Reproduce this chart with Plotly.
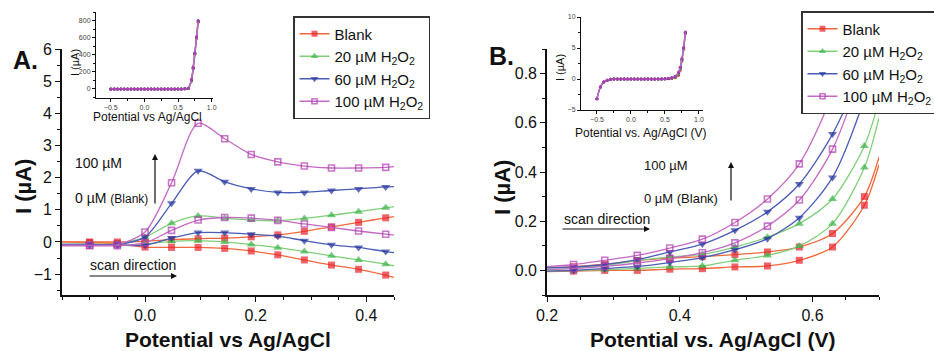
import plotly.graph_objects as go

W, H = 934, 351
FONT = "Liberation Sans, Arial, sans-serif"
INK = "#111111"


def px(x):
    return x / W


def py(y):
    return 1 - y / H


# ---------------- Panel A: cyclic voltammograms (-0.15 .. 0.45 V) ----------------
A_POT = [-0.15, -0.10, -0.05, 0.00, 0.048, 0.096, 0.144, 0.192, 0.240, 0.288, 0.337, 0.386, 0.435, 0.45]

A_BLANK_HI = [0.00, 0.00, 0.00, 0.02, 0.07, 0.10, 0.12, 0.16, 0.22, 0.33, 0.47, 0.61, 0.75, 0.79]
A_BLANK_LO = [0.00, -0.02, -0.05, -0.16, -0.17, -0.17, -0.20, -0.28, -0.40, -0.56, -0.72, -0.85, -1.03, -1.10]
A_H20_HI = [-0.08, -0.07, -0.06, 0.15, 0.58, 0.81, 0.74, 0.68, 0.66, 0.73, 0.83, 0.94, 1.06, 1.10]
A_H20_LO = [-0.08, -0.08, -0.10, -0.06, 0.02, 0.04, 0.00, -0.08, -0.18, -0.30, -0.43, -0.56, -0.69, -0.74]
A_H60_HI = [-0.08, -0.08, -0.08, 0.15, 1.20, 2.21, 1.87, 1.65, 1.54, 1.54, 1.60, 1.65, 1.71, 1.72]
A_H60_LO = [-0.10, -0.10, -0.10, -0.10, 0.12, 0.29, 0.29, 0.24, 0.18, 0.04, -0.09, -0.17, -0.30, -0.33]
A_H100_HI = [-0.10, -0.10, -0.08, 0.31, 1.84, 3.69, 3.21, 2.72, 2.49, 2.36, 2.30, 2.30, 2.32, 2.34]
A_H100_LO = [-0.12, -0.12, -0.12, -0.03, 0.36, 0.68, 0.76, 0.74, 0.67, 0.56, 0.45, 0.34, 0.24, 0.21]

# ---------------- Panel B: anodic region (0.2 .. 0.7 V) ----------------
B_POT = [0.20, 0.240, 0.287, 0.336, 0.385, 0.434, 0.483, 0.532, 0.580, 0.630, 0.678, 0.70]

B_BLANK_HI = [0.012, 0.015, 0.025, 0.040, 0.050, 0.056, 0.064, 0.075, 0.095, 0.150, 0.300, 0.460]
B_BLANK_LO = [-0.005, -0.003, 0.000, 0.000, 0.005, 0.007, 0.014, 0.018, 0.041, 0.095, 0.265, 0.430]
B_H20_HI = [0.010, 0.010, 0.020, 0.040, 0.055, 0.065, 0.095, 0.135, 0.190, 0.290, 0.506, 0.690]
B_H20_LO = [-0.003, 0.000, 0.003, 0.008, 0.014, 0.018, 0.041, 0.061, 0.099, 0.190, 0.418, 0.620]
B_H60_HI = [0.010, 0.014, 0.024, 0.044, 0.075, 0.107, 0.163, 0.238, 0.351, 0.554, 0.850, 1.100]
B_H60_LO = [-0.003, 0.000, 0.007, 0.016, 0.032, 0.052, 0.084, 0.129, 0.214, 0.378, 0.700, 0.950]
B_H100_HI = [0.015, 0.024, 0.041, 0.061, 0.091, 0.127, 0.195, 0.290, 0.433, 0.720, 1.200, 1.500]
B_H100_LO = [0.003, 0.007, 0.016, 0.030, 0.048, 0.072, 0.112, 0.180, 0.286, 0.493, 0.850, 1.100]

# ---------------- Insets: full potential window ----------------
INSET_POT = [-0.5, -0.45, -0.4, -0.35, -0.3, -0.25, -0.2, -0.15, -0.1, -0.05, 0.0, 0.05, 0.1, 0.15,
             0.2, 0.25, 0.3, 0.35, 0.4, 0.45, 0.5, 0.55, 0.6, 0.65, 0.7, 0.725, 0.75, 0.775, 0.8]

INSET_A_BLANK = [-3, -3, -3, -3, -3, -3, -3, -3, -3, -3, -3, -3, -3, -3,
                 -3, -3, -3, -3, -3, -3, -3, -3, -2, 2, 90, 230, 400, 590, 780]
INSET_A_H20 = [-3, -3, -3, -3, -3, -3, -3, -3, -3, -3, -3, -3, -3, -3,
               -3, -3, -3, -3, -3, -3, -3, -3, -2, 3, 100, 240, 410, 600, 790]
INSET_A_H60 = [-3, -3, -3, -3, -3, -3, -3, -3, -3, -3, -3, -3, -3, -3,
               -3, -3, -3, -3, -3, -3, -3, -3, -2, 4, 105, 245, 415, 605, 795]
INSET_A_H100 = [-3, -3, -3, -3, -3, -3, -3, -3, -3, -3, -3, -3, -3, -3,
                -3, -3, -3, -3, -3, -3, -3, -3, -1, 5, 110, 250, 420, 610, 800]

INSET_B_BLANK = [-3.2, -1.3, -0.5, -0.2, -0.05, 0.0, 0.0, 0.0, 0.0, 0.0, 0.0, 0.0, 0.0, 0.0,
                 0.0, 0.0, 0.0, 0.0, 0.0, 0.0, 0.02, 0.05, 0.1, 0.2, 0.6, 1.4, 2.9, 4.8, 7.3]
INSET_B_H20 = [-3.2, -1.3, -0.5, -0.2, -0.05, 0.0, 0.0, 0.0, 0.0, 0.0, 0.0, 0.0, 0.0, 0.0,
               0.0, 0.0, 0.0, 0.0, 0.0, 0.01, 0.03, 0.07, 0.14, 0.3, 0.8, 1.6, 3.0, 4.9, 7.4]
INSET_B_H60 = [-3.2, -1.3, -0.5, -0.2, -0.05, 0.0, 0.0, 0.0, 0.0, 0.0, 0.0, 0.0, 0.0, 0.0,
               0.0, 0.0, 0.0, 0.0, 0.01, 0.02, 0.05, 0.1, 0.2, 0.4, 1.0, 1.8, 3.2, 5.0, 7.5]
INSET_B_H100 = [-3.2, -1.3, -0.5, -0.2, -0.05, 0.0, 0.0, 0.0, 0.0, 0.0, 0.0, 0.0, 0.0, 0.0,
                0.0, 0.0, 0.0, 0.01, 0.02, 0.03, 0.06, 0.12, 0.22, 0.45, 1.1, 1.9, 3.3, 5.1, 7.6]

LABELS = ["Blank", "20 µM H<sub>2</sub>O<sub>2</sub>", "60 µM H<sub>2</sub>O<sub>2</sub>",
          "100 µM H<sub>2</sub>O<sub>2</sub>"]

# style per concentration: line colour, marker colour, symbol, marker size
STYLES = [
    ("#f2683c", "#e8202a", "square", 7),
    ("#7fcf7a", "#3cb34a", "triangle-up", 8),
    ("#4a5cb6", "#25339e", "triangle-down", 8),
    ("#c46ac4", "#b03cb0", "square-open", 6),
]

A_BRANCHES = [(A_BLANK_HI, A_BLANK_LO), (A_H20_HI, A_H20_LO), (A_H60_HI, A_H60_LO), (A_H100_HI, A_H100_LO)]
B_BRANCHES = [(B_BLANK_HI, B_BLANK_LO), (B_H20_HI, B_H20_LO), (B_H60_HI, B_H60_LO), (B_H100_HI, B_H100_LO)]
INSET_A = [INSET_A_BLANK, INSET_A_H20, INSET_A_H60, INSET_A_H100]
INSET_B = [INSET_B_BLANK, INSET_B_H20, INSET_B_H60, INSET_B_H100]

fig = go.Figure()


def add_branch(x, y, style, label, xa, ya, legend, showlegend):
    line_c, mark_c, symbol, msize = style
    # markers only on the interior sample points; the ends just carry the curve
    sizes = [0] + [msize] * (len(x) - 2) + [0]
    fig.add_trace(go.Scatter(
        x=x, y=y, mode="lines+markers", name=label,
        line=dict(color=line_c, width=1.3, shape="spline", smoothing=0.8),
        marker=dict(symbol=symbol, size=sizes, color=mark_c,
                    line=dict(color=mark_c, width=1.6 if "open" in symbol else 0)),
        xaxis=xa, yaxis=ya, legend=legend, showlegend=showlegend, hoverinfo="skip",
    ))


for style, label, (hi, lo) in zip(STYLES, LABELS, A_BRANCHES):
    add_branch(A_POT, lo, style, label, "x", "y", "legend", False)
    add_branch(A_POT, hi, style, label, "x", "y", "legend", True)

for style, label, (hi, lo) in zip(STYLES, LABELS, B_BRANCHES):
    add_branch(B_POT, lo, style, label, "x2", "y2", "legend2", False)
    add_branch(B_POT, hi, style, label, "x2", "y2", "legend2", True)

for inset, xa, ya in ((INSET_A, "x3", "y3"), (INSET_B, "x4", "y4")):
    for style, ys in zip(STYLES, inset):
        line_c, mark_c, symbol, _ = style
        fig.add_trace(go.Scatter(
            x=INSET_POT, y=ys, mode="lines+markers",
            line=dict(color=line_c, width=1.4, shape="spline"),
            marker=dict(symbol="circle", size=3, color=mark_c),
            xaxis=xa, yaxis=ya, showlegend=False, hoverinfo="skip",
        ))


def main_axis(domain, rng, dtick, minor, fmt, anchor, size=16):
    return dict(
        domain=domain, range=rng, anchor=anchor, dtick=dtick, tick0=0, tickformat=fmt,
        showline=True, linecolor=INK, linewidth=1.6, mirror=False,
        ticks="outside", ticklen=5, tickwidth=1.3, tickcolor=INK,
        minor=dict(dtick=minor, ticks="outside", ticklen=3, tickwidth=1.1, tickcolor=INK),
        showgrid=False, zeroline=False,
        tickfont=dict(family=FONT, size=size, color=INK),
    )


def inset_axis(domain, rng, dtick, minor, fmt, anchor):
    return dict(
        domain=domain, range=rng, anchor=anchor, dtick=dtick, tick0=0, tickformat=fmt,
        showline=True, linecolor=INK, linewidth=1.1, mirror=False,
        ticks="outside", ticklen=3, tickwidth=0.8, tickcolor=INK,
        minor=dict(dtick=minor, ticks="outside", ticklen=2, tickwidth=0.7, tickcolor=INK),
        showgrid=False, zeroline=False,
        tickfont=dict(family=FONT, size=7, color="#444444"),
    )


MAIN_Y = [py(295), py(49)]
LEGEND_STYLE = dict(xanchor="left", yanchor="top", bgcolor="white", bordercolor="#333333",
                    borderwidth=1.5, font=dict(family=FONT, size=15, color=INK), itemwidth=30,
                    tracegroupgap=3, traceorder="normal")

fig.update_layout(
    width=W, height=H,
    margin=dict(l=0, r=0, t=0, b=0, autoexpand=False),
    paper_bgcolor="white", plot_bgcolor="rgba(0,0,0,0)",
    font=dict(family=FONT, color=INK),
    xaxis=main_axis([px(62), px(394)], [-0.15, 0.45], 0.2, 0.05, ".1f", "y"),
    yaxis=main_axis(MAIN_Y, [-1.65, 6.0], 1, 0.5, "d", "x"),
    xaxis2=main_axis([px(547), px(879)], [0.2, 0.70], 0.2, 0.05, ".1f", "y2"),
    yaxis2=main_axis(MAIN_Y, [-0.1, 0.9], 0.2, 0.1, ".1f", "x2"),
    xaxis3=inset_axis([px(96), px(213)], [-0.72, 1.02], 0.5, 0.25, ".1f", "y3"),
    yaxis3=inset_axis([py(98), py(12)], [-110, 900], 200, 100, "d", "x3"),
    xaxis4=inset_axis([px(581), px(703)], [-0.735, 1.06], 0.5, 0.25, ".1f", "y4"),
    yaxis4=inset_axis([py(110), py(17)], [-5, 10], 5, 2.5, "d", "x4"),
    legend=dict(x=px(293), y=py(16), **LEGEND_STYLE),
    legend2=dict(x=px(801), y=py(11), **LEGEND_STYLE),
)


def text(x, y, s, size, bold=False, angle=0, xanchor="center"):
    fig.add_annotation(
        x=px(x), y=py(y), xref="paper", yref="paper", text=f"<b>{s}</b>" if bold else s,
        showarrow=False, xanchor=xanchor, yanchor="middle", textangle=angle,
        font=dict(family=FONT, size=size, color=INK),
    )


def arrow(x, y, ax, ay):
    fig.add_annotation(
        x=px(x), y=py(y), xref="paper", yref="paper", ax=ax, ay=ay, text="",
        showarrow=True, arrowhead=2, arrowsize=1, arrowwidth=1.2, arrowcolor=INK,
    )


# panel letters and axis titles
text(25, 60, "A.", 25, bold=True)
text(501, 56, "B.", 25, bold=True)
text(228, 339, "Potential vs Ag/AgCl", 21, bold=True)
text(712, 339, "Potential vs. Ag/AgCl (V)", 21, bold=True)
text(24, 187, "I (µA)", 22, bold=True, angle=-90)
text(503, 187, "I (µA)", 22, bold=True, angle=-90)

# inset titles
text(147, 117, "Potential vs Ag/AgCl", 12)
text(75, 63, "I (µA)", 11, angle=-90)
text(640, 133, "Potential vs. Ag/AgCl (V)", 12)
text(560, 68, "I (µA)", 11, angle=-90)

# concentration arrows and scan direction, panel A
text(73, 163, "100 µM", 14, xanchor="left")
text(73, 198, "0 µM <span style='font-size:12px'>(Blank)</span>", 14, xanchor="left")
arrow(155, 154, 0, 51)
text(88, 265, "scan direction", 14, xanchor="left")
arrow(177, 276, -89, 0)

# concentration arrows and scan direction, panel B
text(642, 165, "100 µM", 13, xanchor="left")
text(642, 198, "0 µM (Blank)", 13, xanchor="left")
arrow(731, 162, 0, 40)
text(562, 219, "scan direction", 14, xanchor="left")
arrow(650, 229, -89, 0)

fig.write_html("out.html")
